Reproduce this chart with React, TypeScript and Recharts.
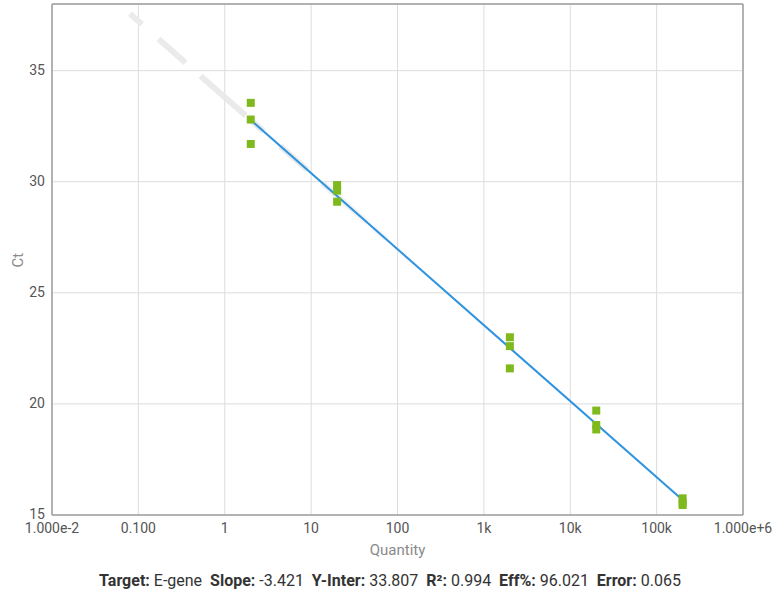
import React from 'react';
import { ScatterChart, Scatter, XAxis, YAxis, CartesianGrid, ZAxis, ReferenceLine } from 'recharts';

const quantities = [2, 2, 2, 20, 20, 20, 2000, 2000, 2000, 20000, 20000, 20000, 200000, 200000, 200000];
const ctValues = [33.55, 32.8, 31.7, 29.85, 29.6, 29.1, 23.0, 22.6, 21.6, 19.7, 19.05, 18.85, 15.75, 15.55, 15.45];

const slope = -3.421;
const intercept = 33.807;
const fitRange = [2, 200000];
const shadowRange = [0.08, 250];

const xTicks = [0.01, 0.1, 1, 10, 100, 1000, 10000, 100000, 1000000];
const xTickLabels = ['1.000e-2', '0.100', '1', '10', '100', '1k', '10k', '100k', '1.000e+6'];
const yTicks = [15, 20, 25, 30, 35];

const points = quantities.map((q, i) => ({ x: q, y: ctValues[i] }));
const fitLine = fitRange.map((q) => ({ x: q, y: intercept + slope * Math.log10(q) }));
const shadowLine = shadowRange.map((q) => ({ x: q, y: intercept + slope * Math.log10(q) }));

const NoShape = () => <g />;

export default function App() {
  return (
    <div style={{ position: 'absolute', left: 0, top: 0, width: 772, height: 591, fontFamily: 'Roboto, sans-serif' }}>
      <ScatterChart width={772} height={591} margin={{ top: 4, right: 29, bottom: 26, left: 0 }}>
        <defs>
          <linearGradient id="fade" x1="0" y1="0" x2="1" y2="0">
            <stop offset="0%" stopColor="#ebebeb" stopOpacity={1} />
            <stop offset="55%" stopColor="#e6e6e6" stopOpacity={0.85} />
            <stop offset="100%" stopColor="#e6e6e6" stopOpacity={0} />
          </linearGradient>
        </defs>
        <CartesianGrid stroke="#dcdcdc" strokeWidth={1} />
        <XAxis
          dataKey="x"
          type="number"
          scale="log"
          domain={[0.01, 1000000]}
          ticks={xTicks}
          allowDataOverflow
          tickFormatter={(v: number, i: number) => xTickLabels[i] ?? String(v)}
          tick={{ fill: '#555', fontSize: 14 }}
          tickLine={false}
          tickSize={0}
          tickMargin={8}
          axisLine={{ stroke: '#9e9e9e', strokeWidth: 1.5 }}
          height={50}
          interval={0}
          label={{ value: 'Quantity', position: 'insideBottom', offset: 10, fill: '#8a8a8a', fontSize: 15 }}
        />
        <YAxis
          dataKey="y"
          type="number"
          domain={[15, 38]}
          ticks={yTicks}
          allowDataOverflow
          tick={{ fill: '#555', fontSize: 14, dy: -1 }}
          tickLine={false}
          tickSize={0}
          tickMargin={7}
          axisLine={{ stroke: '#9e9e9e', strokeWidth: 1.5 }}
          width={52}
          label={{ value: 'Ct', angle: -90, position: 'insideLeft', offset: 18, dy: 8, fill: '#8a8a8a', fontSize: 15 }}
        />
        <ZAxis range={[64, 64]} />
        <ReferenceLine y={38} stroke="#9e9e9e" strokeWidth={1.5} />
        <ReferenceLine x={1000000} stroke="#9e9e9e" strokeWidth={1.5} />
        <Scatter
          data={shadowLine}
          line={{ stroke: 'url(#fade)', strokeWidth: 6, strokeDasharray: '16 22 36 20 60 8' }}
          shape={NoShape}
          isAnimationActive={false}
        />
        <Scatter
          data={fitLine}
          line={{ stroke: '#2d93df', strokeWidth: 2 }}
          shape={NoShape}
          isAnimationActive={false}
        />
        <Scatter data={points} fill="#7fb91e" shape="square" isAnimationActive={false} />
      </ScatterChart>
      <div
        style={{
          position: 'absolute',
          left: 0,
          top: 571,
          width: 780,
          textAlign: 'center',
          fontSize: 16,
          color: '#333',
          whiteSpace: 'pre',
        }}
      >
        <b>Target:</b> E-gene  <b>Slope:</b> -3.421  <b>Y-Inter:</b> 33.807  <b>R²:</b> 0.994  <b>Eff%:</b> 96.021  <b>Error:</b> 0.065
      </div>
    </div>
  );
}
